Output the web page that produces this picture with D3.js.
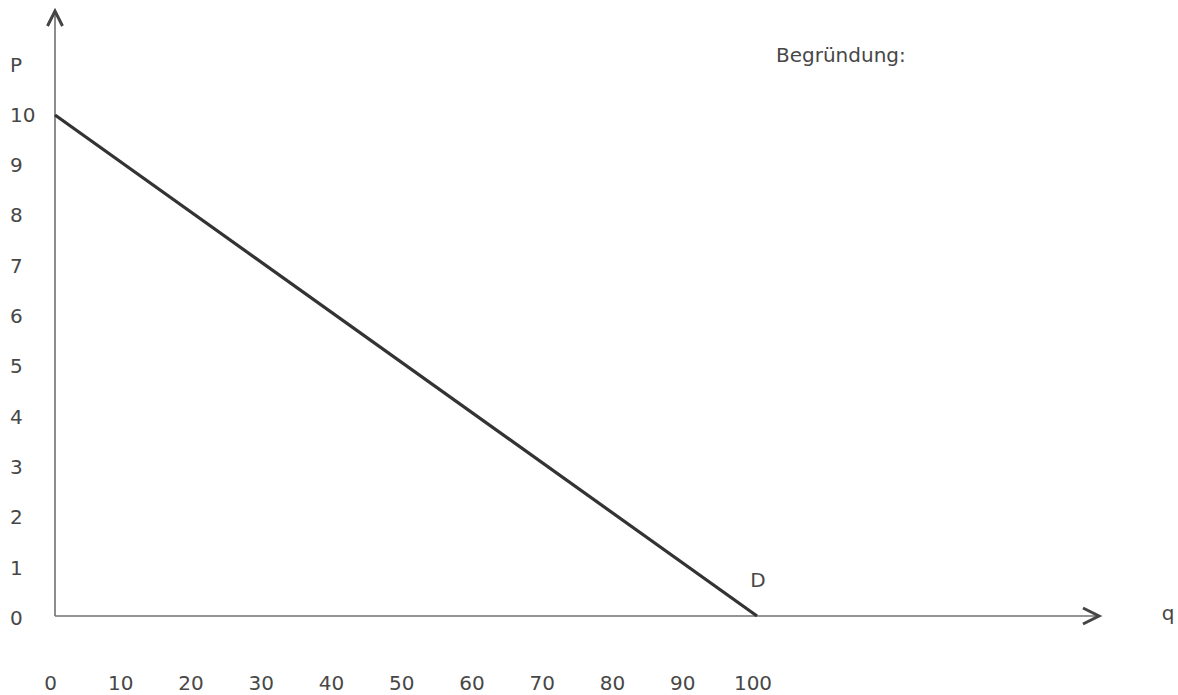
<!DOCTYPE html>
<html><head><meta charset="utf-8">
<script src="https://cdn.jsdelivr.net/npm/d3@7"></script>
<style>body{margin:0;background:#fff}</style>
</head><body>
<svg id="c" width="1178" height="695"></svg>
<script>
const pTicks = [0,1,2,3,4,5,6,7,8,9,10];
const qTicks = [0,10,20,30,40,50,60,70,80,90,100];
const demandQ = [0, 100];
const demandP = [10, 0];
const labels = {p: "P", q: "q", d: "D", note: "Begründung:"};

const svg = d3.select("#c");
const x = d3.scaleLinear().domain([0,100]).range([55,757]);
const xLab = d3.scaleLinear().domain([0,100]).range([50.5,753]);
const y = d3.scaleLinear().domain([0,10]).range([616,115]);
const yLab = d3.scaleLinear().domain([0,10]).range([618,114.5]);
const font = "DejaVu Sans, Verdana, sans-serif";
const txt = "#474747";
const fs = 20;

// axes
const axCol = "#707070";
svg.append("line").attr("x1", x(0)).attr("x2", 1099).attr("y1", y(0)).attr("y2", y(0))
  .attr("stroke", axCol).attr("stroke-width", 1.6);
svg.append("line").attr("x1", x(0)).attr("x2", x(0)).attr("y1", y(0)).attr("y2", 11)
  .attr("stroke", axCol).attr("stroke-width", 1.6);
// arrowheads
svg.append("path").attr("d", `M${x(0)-7.5},26 L${x(0)},11 L${x(0)+7.5},26`)
  .attr("fill","none").attr("stroke","#444").attr("stroke-width",3).attr("stroke-linejoin","miter");
svg.append("path").attr("d", `M1083,${y(0)-8} L1099,${y(0)} L1083,${y(0)+8}`)
  .attr("fill","none").attr("stroke","#444").attr("stroke-width",3).attr("stroke-linejoin","miter");

// y tick labels
svg.append("g").selectAll("text").data(pTicks).join("text")
  .attr("x", 10).attr("y", d => yLab(d)).attr("dy","0.35em")
  .attr("text-anchor","start").attr("font-family",font).attr("font-size",fs)
  .attr("fill",txt).text(d => d);

// x tick labels
svg.append("g").selectAll("text").data(qTicks).join("text")
  .attr("x", d => xLab(d)).attr("y", 683).attr("dy","0.35em")
  .attr("text-anchor","middle").attr("font-family",font).attr("font-size",fs)
  .attr("fill",txt).text(d => d);

// demand line
const pts = demandQ.map((q,i) => [q, demandP[i]]);
svg.append("path").datum(pts)
  .attr("d", d3.line().x(d => x(d[0])).y(d => y(d[1])))
  .attr("fill","none").attr("stroke","#333").attr("stroke-width",3.2);

// labels
svg.append("text").attr("x", 10).attr("y", 65).attr("dy","0.35em").attr("text-anchor","start")
  .attr("font-family",font).attr("font-size",fs).attr("fill",txt).text(labels.p);
svg.append("text").attr("x", 1168).attr("y", 620).attr("text-anchor","middle")
  .attr("font-family",font).attr("font-size",fs).attr("fill",txt).text(labels.q);
svg.append("text").attr("x", 758).attr("y", 580).attr("dy","0.35em").attr("text-anchor","middle")
  .attr("font-family",font).attr("font-size",fs).attr("fill",txt).text(labels.d);
svg.append("text").attr("x", 776).attr("y", 62).attr("text-anchor","start")
  .attr("font-family",font).attr("font-size",fs).attr("fill",txt).text(labels.note);
</script>
</body></html>
